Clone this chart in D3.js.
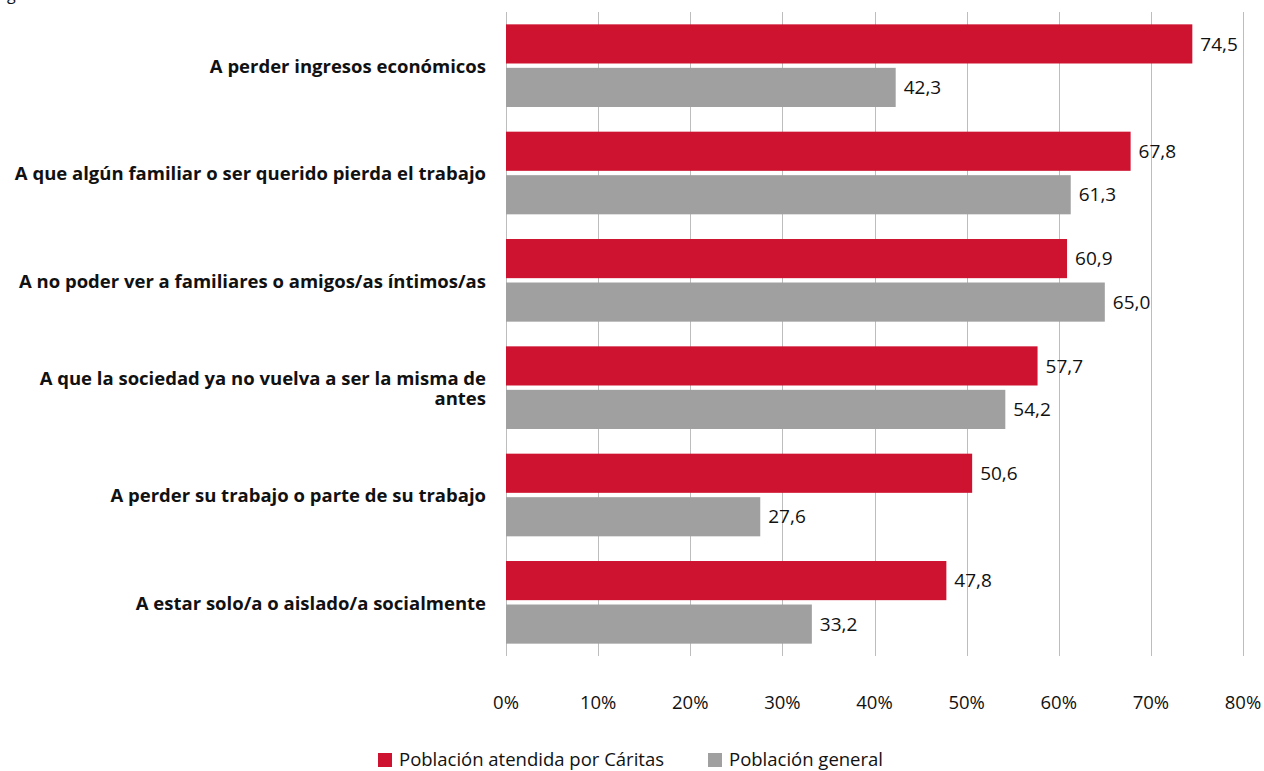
<!DOCTYPE html>
<html>
<head>
<meta charset="utf-8">
<script src="https://cdn.jsdelivr.net/npm/d3@7"></script>
<style>
  html, body { margin: 0; padding: 0; background: #fff; }
  svg { display: block; font-family: "Open Sans", Lato, sans-serif; }
</style>
</head>
<body>
<svg id="chart" width="1264" height="771"></svg>
<script>
// Temores ante la crisis: población atendida por Cáritas vs. población general (%)
const categories = [
  ["A perder ingresos económicos"],
  ["A que algún familiar o ser querido pierda el trabajo"],
  ["A no poder ver a familiares o amigos/as íntimos/as"],
  ["A que la sociedad ya no vuelva a ser la misma de", "antes"],
  ["A perder su trabajo o parte de su trabajo"],
  ["A estar solo/a o aislado/a socialmente"]
];
const seriesNames = ["Población atendida por Cáritas", "Población general"];
const caritas = [74.5, 67.8, 60.9, 57.7, 50.6, 47.8];
const general = [42.3, 61.3, 65.0, 54.2, 27.6, 33.2];
const xTicks = [0, 10, 20, 30, 40, 50, 60, 70, 80];
const colors = ["#CD1330", "#A0A0A0"];

const svg = d3.select("#chart");
const plotLeft = 506, plotRight = 1243, plotTop = 12, plotBottom = 656;

const x = d3.scaleLinear().domain([0, 80]).range([plotLeft, plotRight]);
const keys = categories.map((c, i) => i);
const y0 = d3.scaleBand().domain(keys).range([plotTop, plotBottom]).paddingInner(0.23).paddingOuter(0.115);
const y1 = d3.scaleBand().domain([0, 1]).range([0, y0.bandwidth()]).paddingInner(0.1);

// vertical gridlines
svg.append("g")
  .selectAll("line").data(xTicks).join("line")
  .attr("x1", d => Math.round(x(d)) + 0.5).attr("x2", d => Math.round(x(d)) + 0.5)
  .attr("y1", plotTop).attr("y2", plotBottom)
  .attr("stroke", "#bdbdbd").attr("stroke-width", 1);

// x tick labels
svg.append("g")
  .selectAll("text").data(xTicks).join("text")
  .attr("x", d => x(d)).attr("y", 709)
  .attr("text-anchor", "middle")
  .attr("font-size", 18.5).attr("fill", "#111")
  .text(d => d + "%");

const fmt = v => v.toFixed(1).replace(".", ",");
const series = [caritas, general];

// bars and value labels
series.forEach((vals, s) => {
  const g = svg.append("g");
  g.selectAll("rect").data(vals).join("rect")
    .attr("x", x(0))
    .attr("y", (d, i) => y0(i) + y1(s))
    .attr("width", d => x(d) - x(0))
    .attr("height", y1.bandwidth())
    .attr("fill", colors[s]);
  g.selectAll("text").data(vals).join("text")
    .attr("x", d => x(d) + 8)
    .attr("y", (d, i) => y0(i) + y1(s) + y1.bandwidth() / 2)
    .attr("dy", "0.35em")
    .attr("font-size", 19).attr("fill", "#111")
    .text(d => fmt(d));
});

// category labels
const cat = svg.append("g");
categories.forEach((lines, i) => {
  const cy = y0(i) + y0.bandwidth() / 2;
  const lh = 19.5;
  const t = cat.append("text")
    .attr("text-anchor", "end")
    .attr("font-size", 18.5).attr("font-weight", "bold").attr("fill", "#111");
  lines.forEach((ln, j) => {
    t.append("tspan")
      .attr("x", 486)
      .attr("y", cy + 1 + (j - (lines.length - 1) / 2) * lh)
      .attr("dy", "0.35em")
      .text(ln);
  });
});

// legend
const legend = svg.append("g");
const legendX = [378, 708];
seriesNames.forEach((name, s) => {
  legend.append("rect")
    .attr("x", legendX[s]).attr("y", 753)
    .attr("width", 14).attr("height", 14)
    .attr("fill", colors[s]);
  legend.append("text")
    .attr("x", legendX[s] + 21).attr("y", 766)
    .attr("font-size", 18.5).attr("fill", "#111")
    .text(name);
});

// tail of the heading line above the chart
svg.append("text")
  .attr("x", 7).attr("y", 0)
  .attr("font-size", 16).attr("fill", "#111")
  .text("g");
</script>
</body>
</html>
